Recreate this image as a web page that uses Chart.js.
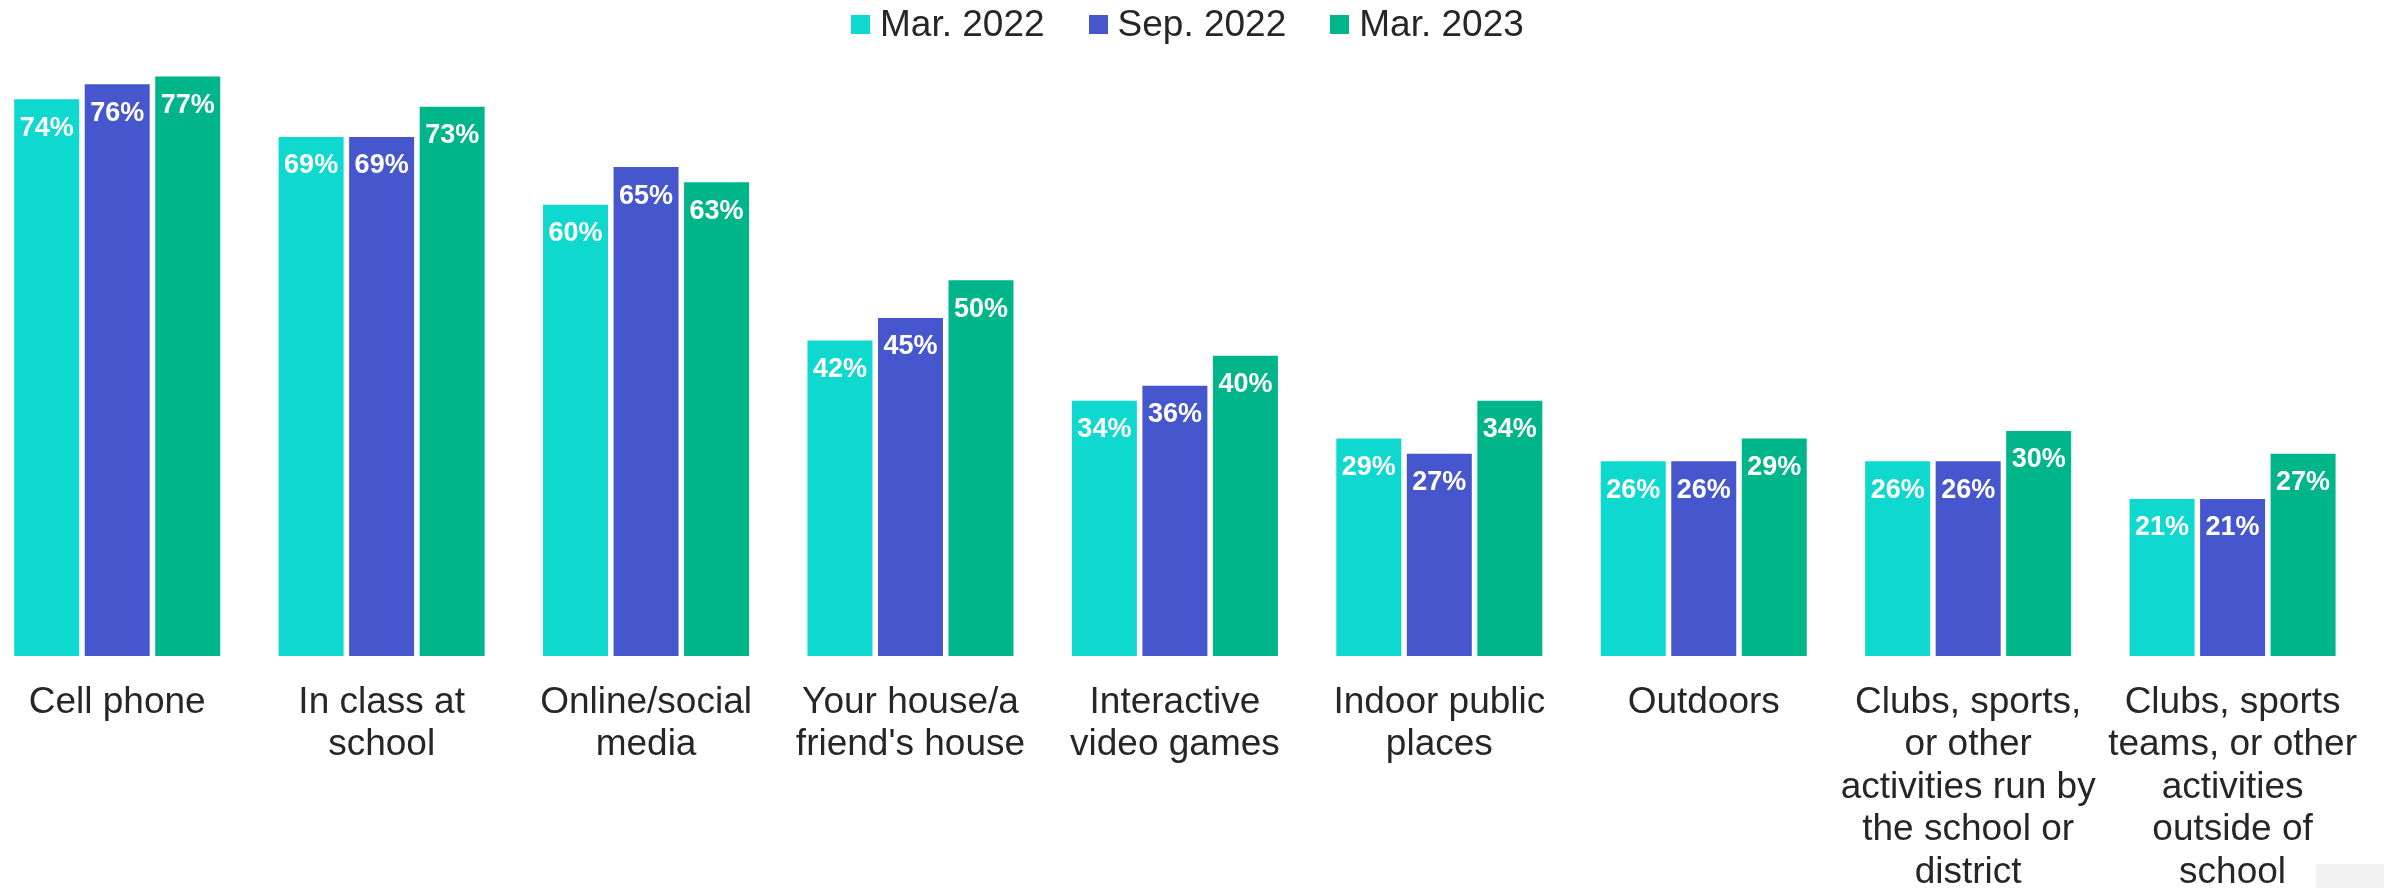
<!DOCTYPE html>
<html>
<head>
<meta charset="utf-8">
<script src="https://cdn.jsdelivr.net/npm/chart.js@4.4.1/dist/chart.umd.min.js"></script>
<style>
  html, body { margin: 0; padding: 0; background: #fff; overflow: hidden; }
  body { width: 2384px; height: 888px; position: relative; font-family: "Liberation Sans", Arial, sans-serif; }
  .chart-box { position: absolute; left: -15px; top: 0; width: 2397px; height: 919px; }
  .legend { position: absolute; left: 851px; top: 3px; height: 42px; display: flex; align-items: center; color: #262626; font-size: 37px; white-space: nowrap; }
  .legend .item { display: flex; align-items: center; margin-right: 44px; }
  .legend .box { width: 19px; height: 19px; margin-right: 10px; }
  .corner { position: absolute; right: 0; bottom: 0; width: 68px; height: 24px; background: #f2f2f2; }
</style>
</head>
<body>
<div class="chart-box"><canvas id="bar-chart"></canvas></div>
<div class="legend js-legend"></div>
<div class="corner"></div>
<script>
// categories (multi-line labels as in the picture)
const categories = [
    'Cell phone',
    ['In class at', 'school'],
    ['Online/social', 'media'],
    ['Your house/a', "friend's house"],
    ['Interactive', 'video games'],
    ['Indoor public', 'places'],
    'Outdoors',
    ['Clubs, sports,', 'or other', 'activities run by', 'the school or', 'district'],
    ['Clubs, sports', 'teams, or other', 'activities', 'outside of', 'school']
];

const seriesNames = ['Mar. 2022', 'Sep. 2022', 'Mar. 2023'];
const mar2022 = [74, 69, 60, 42, 34, 29, 26, 26, 21];
const sep2022 = [76, 69, 65, 45, 36, 27, 26, 26, 21];
const mar2023 = [77, 73, 63, 50, 40, 34, 29, 30, 27];
const colors = ['#0fd8ce', '#4656cc', '#00b58a'];

const fontFamily = '"Liberation Sans", Arial, sans-serif';

// white % labels inside the top of each bar
const valueLabels = {
    id: 'valueLabels',
    afterDatasetsDraw(chart) {
        const ctx = chart.ctx;
        ctx.save();
        ctx.fillStyle = '#ffffff';
        ctx.font = 'bold 27px ' + fontFamily;
        ctx.textAlign = 'center';
        ctx.textBaseline = 'middle';
        chart.data.datasets.forEach((ds, i) => {
            const meta = chart.getDatasetMeta(i);
            meta.data.forEach((bar, j) => {
                ctx.fillText(ds.data[j] + '%', bar.x, bar.y + 30);
            });
        });
        ctx.restore();
    }
};

const data = {
    labels: categories,
    datasets: [mar2022, sep2022, mar2023].map((values, i) => ({
        label: seriesNames[i],
        data: values,
        backgroundColor: colors[i],
        borderColor: 'rgba(255,255,255,0.45)',
        borderWidth: 1,
        categoryPercentage: 0.8,
        barPercentage: 0.95
    }))
};

const ctx = document.getElementById('bar-chart').getContext('2d');
const myBarChart = new Chart(ctx, {
    type: 'bar',
    data: data,
    plugins: [valueLabels],
    options: {
        responsive: true,
        maintainAspectRatio: false,
        animation: false,
        layout: { padding: { top: 53 } },
        plugins: {
            legend: { display: false },
            tooltip: { enabled: false }
        },
        scales: {
            x: {
                grid: { display: false, drawTicks: false },
                border: { display: false },
                ticks: {
                    color: '#262626',
                    padding: 25,
                    maxRotation: 0,
                    autoSkip: false,
                    font: { family: fontFamily, size: 37, lineHeight: 1.15 }
                }
            },
            y: {
                display: false,
                min: 0,
                max: 80
            }
        }
    }
});

// legend as html, built from the chart's datasets
const legendElement = document.querySelector('.js-legend');
myBarChart.data.datasets.forEach((ds) => {
    const item = document.createElement('div');
    item.className = 'item';
    item.innerHTML = `<span class="box" style="background:${ds.backgroundColor}"></span>${ds.label}`;
    legendElement.appendChild(item);
});
</script>
</body>
</html>
